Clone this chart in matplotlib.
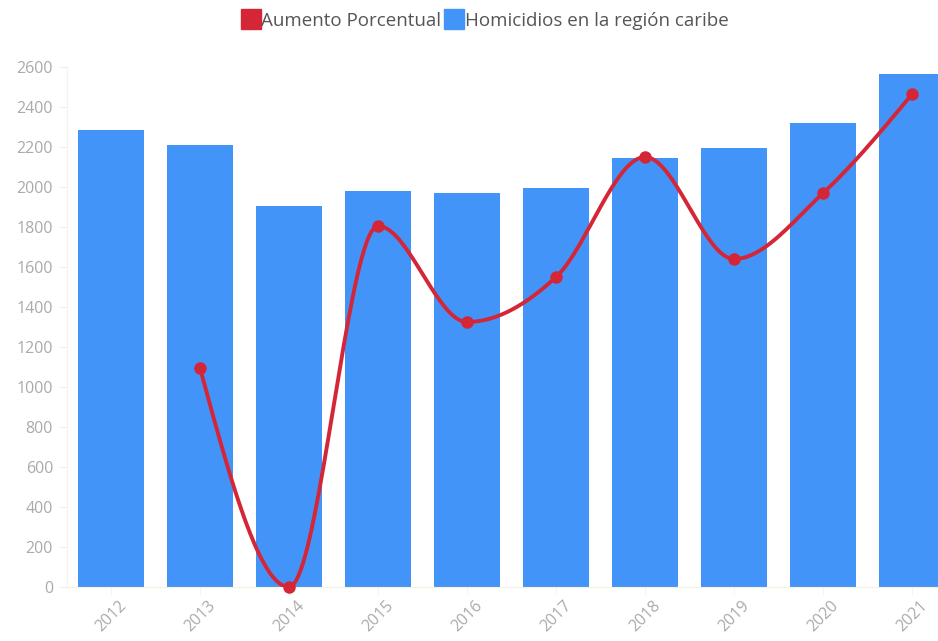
#!/usr/bin/env python3
import matplotlib
import matplotlib.pyplot as plt
import numpy as np
from matplotlib.lines import Line2D

matplotlib.use("Agg")

years = ["2012", "2013", "2014", "2015", "2016", "2017", "2018", "2019", "2020", "2021"]
homicidios = [2285, 2210, 1905, 1980, 1970, 1995, 2145, 2195, 2320, 2565]
aumento_years = ["2013", "2014", "2015", "2016", "2017", "2018", "2019", "2020", "2021"]
aumento = [1095, 0, 1805, 1325, 1550, 2150, 1640, 1970, 2465]

BLUE = "#4394f8"
RED = "#d52637"
GRAY = "#aaaaaa"


def monotone_curve(x, y, n=40):
    """Monotone cubic curve through the points (like d3 curveMonotoneX)."""
    x = np.asarray(x, float)
    y = np.asarray(y, float)
    h = np.diff(x)
    s = np.diff(y) / h
    m = np.zeros(len(x))
    for i in range(1, len(x) - 1):
        if s[i - 1] * s[i] <= 0:
            m[i] = 0
        else:
            p = (s[i - 1] * h[i] + s[i] * h[i - 1]) / (h[i - 1] + h[i])
            m[i] = (np.sign(s[i - 1]) + np.sign(s[i])) * min(
                abs(s[i - 1]), abs(s[i]), 0.5 * abs(p)
            )
    m[0] = (3 * s[0] - m[1]) / 2
    m[-1] = (3 * s[-1] - m[-2]) / 2
    xs, ys = [], []
    t = np.linspace(0, 1, n)
    for i in range(len(x) - 1):
        h00 = 2 * t**3 - 3 * t**2 + 1
        h10 = t**3 - 2 * t**2 + t
        h01 = -2 * t**3 + 3 * t**2
        h11 = t**3 - t**2
        xs.extend(x[i] + t * h[i])
        ys.extend(h00 * y[i] + h10 * h[i] * m[i] + h01 * y[i + 1] + h11 * h[i] * m[i + 1])
    return np.array(xs), np.array(ys)


plt.rcParams["font.family"] = ["Open Sans", "DejaVu Sans"]

fig = plt.figure(figsize=(9.38, 6.41), dpi=100)
ax = fig.add_axes([67 / 938, 1 - 587 / 641, (938 - 67) / 938, 520 / 641])

x = np.arange(len(years))
ax.bar(x, homicidios, width=0.74, color=BLUE, zorder=2)

xl = np.array([years.index(y) for y in aumento_years])
sx, sy = monotone_curve(xl, aumento)
ax.plot(sx, sy, color=RED, linewidth=2.8, zorder=3, solid_capstyle="round")
ax.plot(xl, aumento, "o", color=RED, markersize=8, zorder=4, clip_on=False)

ax.set_xlim(-0.494, 9.29)
ax.set_ylim(0, 2600)
ax.set_yticks(np.arange(0, 2601, 200))
ax.set_xticks(x)
ax.set_xticklabels(years, rotation=45, ha="center", va="top")

for side in ["top", "right"]:
    ax.spines[side].set_visible(False)
ax.spines["left"].set_color("#f3f3f3")
ax.spines["bottom"].set_color("#fbf0dc")
ax.tick_params(axis="y", colors="#eeeeee", labelcolor=GRAY, labelsize=11.5, length=6, pad=4)
ax.tick_params(axis="x", colors="#f3f3f3", labelcolor=GRAY, labelsize=11.5, length=5, pad=3)

handles = [
    Line2D([], [], marker="s", linestyle="", markersize=14, color=RED),
    Line2D([], [], marker="s", linestyle="", markersize=14, color=BLUE),
]
fig.legend(
    handles,
    ["Aumento Porcentual", "Homicidios en la región caribe"],
    loc="center",
    bbox_to_anchor=(485 / 938, 1 - 21 / 641),
    ncol=2,
    frameon=False,
    fontsize=13.5,
    labelcolor="#555555",
    handletextpad=0.05,
    columnspacing=0.2,
    handlelength=1.0,
)

plt.savefig("out.png", dpi=100)
plt.close()
